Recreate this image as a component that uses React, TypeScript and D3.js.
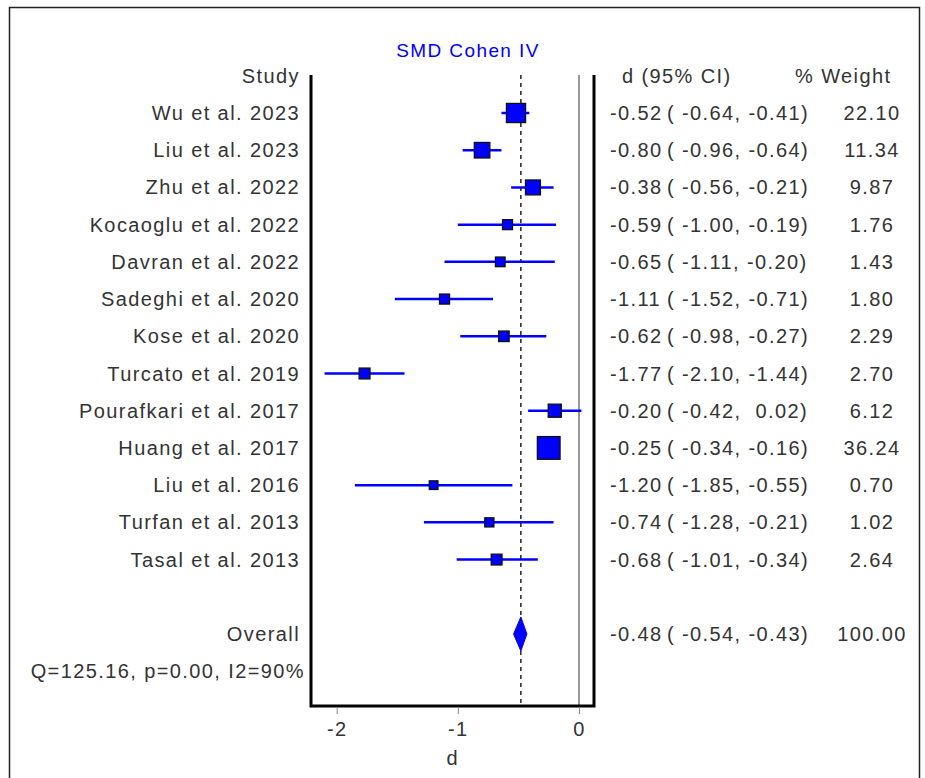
import React from 'react';
import * as d3 from 'd3';

const studies = [
  'Wu et al. 2023', 'Liu et al. 2023', 'Zhu et al. 2022', 'Kocaoglu et al. 2022',
  'Davran et al. 2022', 'Sadeghi et al. 2020', 'Kose et al. 2020', 'Turcato et al. 2019',
  'Pourafkari et al. 2017', 'Huang et al. 2017', 'Liu et al. 2016', 'Turfan et al. 2013',
  'Tasal et al. 2013',
];
const estimates = [-0.52, -0.80, -0.38, -0.59, -0.65, -1.11, -0.62, -1.77, -0.20, -0.25, -1.20, -0.74, -0.68];
const lower = [-0.64, -0.96, -0.56, -1.00, -1.11, -1.52, -0.98, -2.10, -0.42, -0.34, -1.85, -1.28, -1.01];
const upper = [-0.41, -0.64, -0.21, -0.19, -0.20, -0.71, -0.27, -1.44, 0.02, -0.16, -0.55, -0.21, -0.34];
const weights = [22.10, 11.34, 9.87, 1.76, 1.43, 1.80, 2.29, 2.70, 6.12, 36.24, 0.70, 1.02, 2.64];
const overall = { est: -0.48, lo: -0.54, hi: -0.43, weight: 100.0 };
const hetText = 'Q=125.16, p=0.00, I2=90%';
const xTicks = [-2, -1, 0];

// hyphen instead of unicode minus, like the original
const fmt = (v: number) => d3.format('.2f')(v).replace('\u2212', '-');
const ci = (lo: number, hi: number) => {
  const p = (v: number) => (v < 0 ? fmt(v) : ' ' + fmt(v));
  return `( ${p(lo)}, ${p(hi)})`;
};

const App = () => {
  const ref = React.useRef<SVGSVGElement>(null);

  React.useEffect(() => {
    const svg = d3.select(ref.current);
    svg.selectAll('*').remove();

    const font = 'Arial, "Liberation Sans", sans-serif';
    const fs = 20;
    const ls = 1.4;
    const ink = '#333';

    const x = d3.scaleLinear().domain([-2, 0]).range([336.7, 579]);
    const y = d3.scaleLinear().domain([0, 14]).range([113, 634]);
    const side = d3.scaleLinear().domain([0, Math.sqrt(36.24)]).range([6.4, 22.7]);

    const top = 75;
    const bottom = 706;
    const left = 311;
    const right = 594;

    // outer frame
    svg.append('rect')
      .attr('x', 9.5).attr('y', 7.5).attr('width', 910).attr('height', 800)
      .attr('fill', 'none').attr('stroke', '#222').attr('stroke-width', 1.5);

    // title
    svg.append('text')
      .attr('x', 468).attr('y', 50).attr('dy', '0.35em')
      .attr('text-anchor', 'middle').attr('fill', '#0000ff')
      .attr('font-family', font).attr('font-size', 19)
      .attr('letter-spacing', ls)
      .text('SMD Cohen IV');

    // zero line and overall dashed line
    svg.append('line')
      .attr('x1', x(0)).attr('x2', x(0)).attr('y1', top).attr('y2', bottom)
      .attr('stroke', '#555').attr('stroke-width', 1.2);
    svg.append('line')
      .attr('x1', x(overall.est)).attr('x2', x(overall.est)).attr('y1', top).attr('y2', bottom)
      .attr('stroke', '#222').attr('stroke-width', 1.5).attr('stroke-dasharray', '4,4');

    // plot box (no top side)
    svg.append('path')
      .attr('d', `M${left},${top}V${bottom}H${right}V${top}`)
      .attr('fill', 'none').attr('stroke', '#000').attr('stroke-width', 3);

    // x axis
    const axis = svg.append('g')
      .attr('transform', `translate(0,${bottom + 1})`)
      .call(d3.axisBottom(x).tickValues(xTicks)
        .tickFormat(d => String(d).replace('\u2212', '-'))
        .tickSize(7).tickPadding(8));
    axis.select('.domain').remove();
    axis.selectAll('line').attr('stroke', '#888');
    axis.selectAll('text')
      .attr('font-family', font).attr('font-size', fs).attr('fill', ink)
      .attr('letter-spacing', ls);
    svg.append('text')
      .attr('x', 452).attr('y', 758).attr('dy', '0.35em')
      .attr('text-anchor', 'middle').attr('fill', ink)
      .attr('font-family', font).attr('font-size', fs)
      .text('d');

    const txt = (tx: number, ty: number, s: string, anchor = 'start') =>
      svg.append('text')
        .attr('x', tx).attr('y', ty).attr('dy', '0.35em')
        .attr('text-anchor', anchor).attr('fill', ink)
        .attr('font-family', font).attr('font-size', fs)
        .attr('letter-spacing', ls)
        .style('white-space', 'pre')
        .text(s);

    // headers
    txt(300, y(-1), 'Study', 'end');
    txt(622, y(-1), 'd (95% CI)');
    txt(795, y(-1), '% Weight');

    const rows = studies.map((s, i) => ({
      s, est: estimates[i], lo: lower[i], hi: upper[i], w: weights[i], i,
    }));

    // CI lines
    svg.selectAll('line.ci')
      .data(rows).enter().append('line')
      .attr('class', 'ci')
      .attr('x1', d => x(d.lo)).attr('x2', d => x(d.hi))
      .attr('y1', d => y(d.i)).attr('y2', d => y(d.i))
      .attr('stroke', '#0000ff').attr('stroke-width', 2.5);

    // boxes
    svg.selectAll('rect.box')
      .data(rows).enter().append('rect')
      .attr('class', 'box')
      .attr('x', d => x(d.est) - side(Math.sqrt(d.w)) / 2)
      .attr('y', d => y(d.i) - side(Math.sqrt(d.w)) / 2)
      .attr('width', d => side(Math.sqrt(d.w)))
      .attr('height', d => side(Math.sqrt(d.w)))
      .attr('fill', '#0000ff').attr('stroke', '#111').attr('stroke-width', 1.3);

    rows.forEach(d => {
      txt(300, y(d.i), d.s, 'end');
      txt(610, y(d.i), fmt(d.est));
      txt(667, y(d.i), ci(d.lo, d.hi));
      txt(872, y(d.i), fmt(d.w), 'middle');
    });

    // overall diamond
    const oy = y(14);
    svg.append('path')
      .attr('d', `M${x(overall.lo)},${oy}L${x(overall.est)},${oy - 17}L${x(overall.hi)},${oy}L${x(overall.est)},${oy + 17}Z`)
      .attr('fill', '#0000ff').attr('stroke', '#0000ff').attr('stroke-width', 1);

    txt(300, oy, 'Overall', 'end');
    txt(610, oy, fmt(overall.est));
    txt(667, oy, ci(overall.lo, overall.hi));
    txt(872, oy, fmt(overall.weight), 'middle');

    txt(305, y(15), hetText, 'end');
  }, []);

  return (
    <svg
      ref={ref}
      width={925}
      height={778}
      style={{ position: 'absolute', left: 0, top: 0, background: '#fff' }}
    />
  );
};

export default App;
